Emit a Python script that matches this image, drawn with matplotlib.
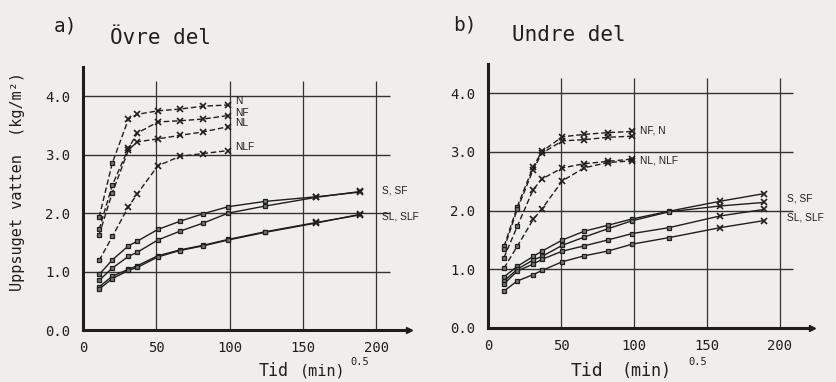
import matplotlib
matplotlib.use("Agg")
import matplotlib.pyplot as plt

# sqrt(time) positions of the measurements
x_dash = [11, 20, 31, 37, 51, 66, 82, 99]
x_solid = [11, 20, 31, 37, 51, 66, 82, 99, 124, 159, 189]

# a) Ovre del
a_N = [1.93, 2.86, 3.61, 3.69, 3.75, 3.78, 3.83, 3.85]
a_NF = [1.72, 2.48, 3.11, 3.37, 3.56, 3.58, 3.61, 3.67]
a_NL = [1.63, 2.35, 3.08, 3.22, 3.27, 3.33, 3.39, 3.48]
a_NLF = [1.19, 1.60, 2.11, 2.33, 2.81, 2.97, 3.02, 3.07]
a_S = [0.95, 1.20, 1.44, 1.52, 1.72, 1.86, 1.99, 2.11, 2.20, 2.28, 2.36]
a_SF = [0.85, 1.06, 1.26, 1.33, 1.54, 1.69, 1.83, 2.00, 2.12, 2.27, 2.37]
a_SL = [0.74, 0.92, 1.04, 1.10, 1.27, 1.37, 1.45, 1.55, 1.68, 1.84, 1.97]
a_SLF = [0.70, 0.88, 1.02, 1.07, 1.25, 1.36, 1.44, 1.54, 1.67, 1.83, 1.98]

# b) Undre del
b_NF = [1.39, 2.06, 2.75, 3.01, 3.26, 3.30, 3.33, 3.35]
b_N = [1.35, 2.02, 2.70, 2.98, 3.19, 3.21, 3.25, 3.27]
b_NL = [1.20, 1.73, 2.36, 2.54, 2.73, 2.80, 2.84, 2.88]
b_NLF = [1.02, 1.39, 1.85, 2.03, 2.51, 2.73, 2.82, 2.85]
b_S = [0.87, 1.05, 1.22, 1.31, 1.50, 1.65, 1.75, 1.86, 1.99, 2.16, 2.29]
b_SF = [0.80, 1.00, 1.16, 1.22, 1.41, 1.55, 1.69, 1.83, 1.98, 2.08, 2.14]
b_SL = [0.75, 0.97, 1.09, 1.17, 1.31, 1.40, 1.50, 1.61, 1.71, 1.91, 2.02]
b_SLF = [0.63, 0.80, 0.91, 0.98, 1.13, 1.23, 1.31, 1.43, 1.54, 1.71, 1.83]

y_ticks = [0, 1, 2, 3, 4]
y_ticklabels = ["0.0", "1.0", "2.0", "3.0", "4.0"]
x_ticks = [0, 50, 100, 150, 200]

bg = "#efeeea"
ink = "#1e1e1e"
mono = "DejaVu Sans Mono"

fig = plt.figure(figsize=(8.36, 3.82), dpi=100, facecolor=bg)


def series(ax, xs, ys, dashed):
    ls = (0, (4, 2)) if dashed else "-"
    ax.plot(xs, ys, ls=ls, color=ink, lw=1.0, zorder=3)
    sq_x = [x for x in xs if (x < 25 if dashed else x < 140)]
    sq_y = ys[:len(sq_x)]
    ax.plot(sq_x, sq_y, "s", ms=3.5, mfc="#777", mec=ink, mew=0.9, zorder=4)
    ax.plot(xs[len(sq_x):], ys[len(sq_x):], "x", ms=4, mec=ink, mew=1.2, zorder=4)


def frame(ax):
    ax.set_facecolor(bg)
    ax.set_xlim(0, 222)
    ax.set_ylim(0, 4.5)
    for s in ["top", "right"]:
        ax.spines[s].set_visible(False)
    ax.spines["left"].set_linewidth(2.2)
    ax.spines["bottom"].set_linewidth(2.2)
    ax.spines["left"].set_color(ink)
    ax.spines["bottom"].set_color(ink)
    ax.plot(1, 0, ">", ms=5, color=ink, transform=ax.transAxes, clip_on=False)
    ax.hlines(y_ticks[1:], 0, 209, color="#333", lw=1.0, zorder=1)
    ax.vlines(x_ticks[1:], 0, 4.26, color="#333", lw=0.9, zorder=1)
    ax.set_yticks(y_ticks)
    ax.set_yticklabels(y_ticklabels)
    ax.set_xticks(x_ticks)
    ax.tick_params(length=0, labelsize=10, colors=ink)
    ax.tick_params(axis="y", pad=9)
    ax.tick_params(axis="x", pad=8)
    for t in ax.get_xticklabels() + ax.get_yticklabels():
        t.set_fontfamily(mono)


lab = dict(fontsize=7.3, family="Liberation Sans", color=ink, va="center", ha="left")

ax1 = fig.add_axes([0.0993, 0.1361, 0.3895, 0.6885])
frame(ax1)
for ys in [a_N, a_NF, a_NL, a_NLF]:
    series(ax1, x_dash, ys, True)
for ys in [a_S, a_SF, a_SL, a_SLF]:
    series(ax1, x_solid, ys, False)
ax1.text(104, 3.91, "N", **lab)
ax1.text(104, 3.72, "NF", **lab)
ax1.text(104, 3.54, "NL", **lab)
ax1.text(104, 3.13, "NLF", **lab)
ax1.text(204, 2.39, "S, SF", clip_on=False, **lab)
ax1.text(204, 1.95, "SL, SLF", clip_on=False, **lab)

ax2 = fig.add_axes([0.5837, 0.1414, 0.3876, 0.6911])
frame(ax2)
for ys in [b_NF, b_N, b_NL, b_NLF]:
    series(ax2, x_dash, ys, True)
for ys in [b_S, b_SF, b_SL, b_SLF]:
    series(ax2, x_solid, ys, False)
ax2.text(104, 3.37, "NF, N", **lab)
ax2.text(104, 2.86, "NL, NLF", **lab)
ax2.text(205, 2.21, "S, SF", clip_on=False, **lab)
ax2.text(205, 1.89, "SL, SLF", clip_on=False, **lab)

# titles
fig.text(0.064, 0.932, "a)", fontsize=14, family=mono, color=ink, va="center")
fig.text(0.131, 0.900, "Övre del", fontsize=15, family=mono, color=ink, va="center")
fig.text(0.542, 0.935, "b)", fontsize=14, family=mono, color=ink, va="center")
fig.text(0.612, 0.908, "Undre del", fontsize=15, family=mono, color=ink, va="center")

# axis labels
fig.text(0.021, 0.525, "Uppsuget vatten  (kg/m²)", rotation=90, fontsize=11,
         family=mono, color=ink, ha="center", va="center")
for x_tid, x_min, x_exp, fs in [(0.309, 0.359, 0.419, 11), (0.682, 0.743, 0.823, 12)]:
    fig.text(x_tid, 0.028, "Tid", fontsize=fs + 1, family=mono, color=ink, va="center")
    fig.text(x_min, 0.030, "(min)", fontsize=fs, family=mono, color=ink, va="center")
    fig.text(x_exp, 0.053, "0.5", fontsize=7.5, family=mono, color=ink, va="center")

fig.savefig("out.png", dpi=100, facecolor=bg)
